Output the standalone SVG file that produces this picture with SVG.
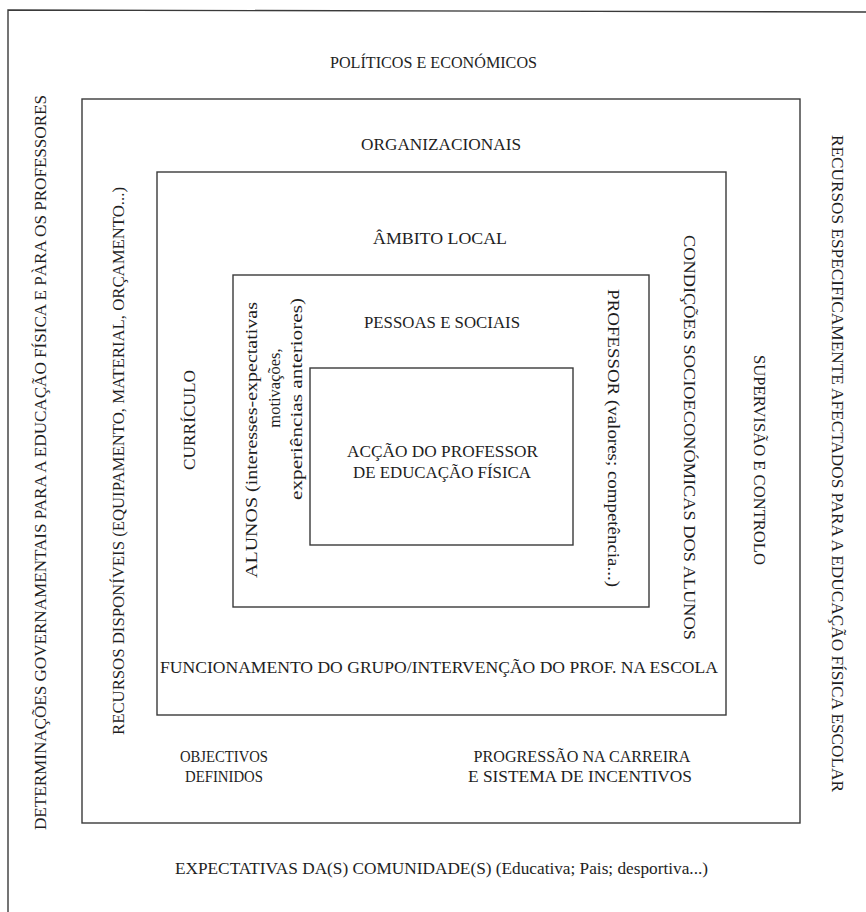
<svg xmlns="http://www.w3.org/2000/svg" width="866" height="912" viewBox="0 0 866 912">
<style>
.fr{fill:none;stroke:#3a3a3a;stroke-width:1.4}
.t{font-family:"Liberation Serif","Times New Roman",serif;font-size:16.5px;fill:#1e1e1e;text-anchor:middle}
</style>
<rect width="866" height="912" fill="#ffffff"/>
<g id="frame-politicos">
<path class="fr" d="M8,912 L8,10 L866,12"/>
<text class="t" x="433.5" y="68" textLength="207" lengthAdjust="spacingAndGlyphs">POLÍTICOS E ECONÓMICOS</text>
<text class="t" transform="translate(46,462.5) rotate(-90)" textLength="735" lengthAdjust="spacingAndGlyphs">DETERMINAÇÕES GOVERNAMENTAIS PARA A EDUCAÇÃO FÍSICA E PÀRA OS PROFESSORES</text>
<text class="t" transform="translate(832,463.5) rotate(90)" textLength="657" lengthAdjust="spacingAndGlyphs">RECURSOS ESPECIFICAMENTE AFECTADOS PARA A EDUCAÇÃO FÍSICA ESCOLAR</text>
<text class="t" x="441.5" y="874" textLength="533" lengthAdjust="spacingAndGlyphs">EXPECTATIVAS DA(S) COMUNIDADE(S) (Educativa; Pais; desportiva...)</text>
</g>
<g id="frame-organizacionais">
<rect class="fr" x="82" y="99" width="718" height="724"/>
<text class="t" x="441" y="150" textLength="160" lengthAdjust="spacingAndGlyphs">ORGANIZACIONAIS</text>
<text class="t" transform="translate(124,461) rotate(-90)" textLength="548" lengthAdjust="spacingAndGlyphs">RECURSOS DISPONÍVEIS (EQUIPAMENTO, MATERIAL, ORÇAMENTO...)</text>
<text class="t" transform="translate(754,460) rotate(90)" textLength="210" lengthAdjust="spacingAndGlyphs">SUPERVISÃO E CONTROLO</text>
<text class="t" x="224" y="762" textLength="88" lengthAdjust="spacingAndGlyphs">OBJECTIVOS</text>
<text class="t" x="224" y="782" textLength="78" lengthAdjust="spacingAndGlyphs">DEFINIDOS</text>
<text class="t" x="582" y="762" textLength="217" lengthAdjust="spacingAndGlyphs">PROGRESSÃO NA CARREIRA</text>
<text class="t" x="580" y="782" textLength="224" lengthAdjust="spacingAndGlyphs">E SISTEMA DE INCENTIVOS</text>
</g>
<g id="frame-ambito-local">
<rect class="fr" x="157" y="172" width="569" height="543"/>
<text class="t" x="440" y="244" textLength="134" lengthAdjust="spacingAndGlyphs">ÂMBITO LOCAL</text>
<text class="t" transform="translate(195,420) rotate(-90)" textLength="100" lengthAdjust="spacingAndGlyphs">CURRÍCULO</text>
<text class="t" transform="translate(684,437.5) rotate(90)" textLength="405" lengthAdjust="spacingAndGlyphs">CONDIÇÕES SOCIOECONÓMICAS DOS ALUNOS</text>
<text class="t" x="439" y="673" textLength="558" lengthAdjust="spacingAndGlyphs">FUNCIONAMENTO DO GRUPO/INTERVENÇÃO DO PROF. NA ESCOLA</text>
</g>
<g id="frame-pessoas-sociais">
<rect class="fr" x="233" y="275" width="416" height="332"/>
<text class="t" x="442" y="328" textLength="156" lengthAdjust="spacingAndGlyphs">PESSOAS E SOCIAIS</text>
<text class="t" transform="translate(257,440) rotate(-90)" textLength="276" lengthAdjust="spacingAndGlyphs">ALUNOS (interesses-expectativas</text>
<text class="t" transform="translate(280,388) rotate(-90)">motivações,</text>
<text class="t" transform="translate(302,399) rotate(-90)" textLength="202" lengthAdjust="spacingAndGlyphs">experiências anteriores)</text>
<text class="t" transform="translate(608,438) rotate(90)" textLength="298" lengthAdjust="spacingAndGlyphs">PROFESSOR (valores; competência...)</text>
</g>
<g id="accao-professor">
<rect class="fr" x="310" y="368" width="263" height="177"/>
<text class="t" x="442.5" y="457" textLength="191" lengthAdjust="spacingAndGlyphs">ACÇÃO DO PROFESSOR</text>
<text class="t" x="442" y="478" textLength="178" lengthAdjust="spacingAndGlyphs">DE EDUCAÇÃO FÍSICA</text>
</g>
<g id="connectors"/>
</svg>
